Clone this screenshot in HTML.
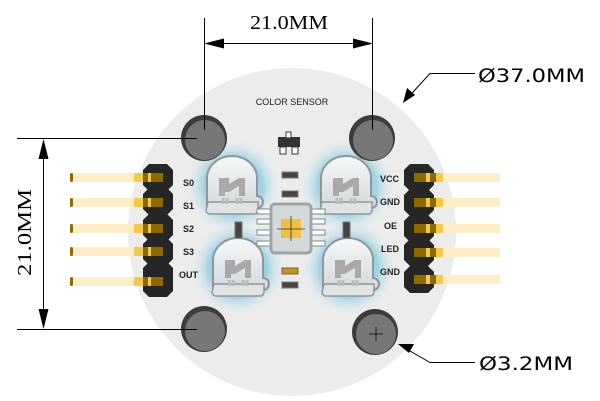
<!DOCTYPE html>
<html><head><style>html,body{margin:0;padding:0;background:#fff}svg{display:block}</style></head>
<body>
<svg width="600" height="401" viewBox="0 0 600 401" xmlns="http://www.w3.org/2000/svg">
<defs>
<radialGradient id="glow" cx="0.5" cy="0.5" r="0.5">
<stop offset="0.6" stop-color="#9fd2e2"/><stop offset="1" stop-color="#e4eef1" stop-opacity="0"/>
</radialGradient>
<linearGradient id="led" x1="0" y1="0" x2="0" y2="1">
<stop offset="0" stop-color="#f6f8f9"/><stop offset="1" stop-color="#d3d8da"/>
</linearGradient>
<g id="seg"><polygon points="6,0 24,0 30,6 30,21 24,27 6,27 0,21 0,6" fill="#262626"/></g>
<g id="ledg">
<path d="M0 50 v-30 a25 22 0 0 1 50 0 v18 a6 6 0 0 1 0 12 z" fill="url(#led)" stroke="#8f979b" stroke-width="2"/>
<path d="M1 44 h50 v8 a4 4 0 0 1 -4 4 h-44 a4 4 0 0 1 -4 -4z" fill="#dfe3e4" stroke="#8f979b" stroke-width="1.5"/>
<path d="M12 38v-18h10l0 6 10-6h6v18h-6v-10l-10 6h-4v4z" fill="#a9a9a9"/>
<path d="M16 40v6M20 40v6M30 40v6M34 40v6" stroke="#bbb" stroke-width="3"/>
</g>
</defs>
<circle cx="292" cy="232" r="164" fill="#ececec"/>
<g fill="url(#glow)">
<circle cx="233" cy="186" r="48"/><circle cx="347" cy="186" r="48"/>
<circle cx="238" cy="268" r="48"/><circle cx="349" cy="268" r="48"/>
</g>
<text x="292" y="105" font-family="Liberation Sans,sans-serif" font-size="9" text-anchor="middle" fill="#222">COLOR SENSOR</text>
<g>
<circle cx="204" cy="138" r="23" fill="#3c3c3c"/><circle cx="205" cy="140" r="20" fill="#777"/>
<circle cx="372" cy="138" r="23" fill="#3c3c3c"/><circle cx="373" cy="140" r="20" fill="#777"/>
<circle cx="204" cy="329" r="23" fill="#3c3c3c"/><circle cx="205" cy="331" r="20" fill="#777"/>
<circle cx="375" cy="332" r="23" fill="#3c3c3c"/><circle cx="376" cy="334" r="20" fill="#777"/>
<path d="M369 334h14M376 327v14" stroke="#222" stroke-width="1"/>
</g>
<use href="#ledg" x="207" y="158"/>
<use href="#ledg" x="321" y="158"/>
<use href="#ledg" x="213" y="240"/>
<use href="#ledg" x="323" y="240"/>
<rect x="278" y="137" width="22" height="10" fill="#333"/>
<rect x="286" y="132" width="5" height="6" fill="#fff" stroke="#333"/>
<rect x="280" y="147" width="6" height="7" fill="#fff" stroke="#333"/><rect x="292" y="147" width="6" height="7" fill="#fff" stroke="#333"/>
<rect x="282" y="172" width="16" height="6" fill="#444" stroke="#777"/>
<rect x="282" y="191" width="16" height="6" fill="#444" stroke="#777"/>
<rect x="282" y="268" width="16" height="6" fill="#c8960a" stroke="#666"/>
<rect x="282" y="282" width="16" height="6" fill="#444" stroke="#777"/>
<rect x="235" y="222" width="7" height="16" fill="#444" stroke="#777"/>
<rect x="343" y="222" width="7" height="16" fill="#444" stroke="#777"/>
<g fill="#fff" stroke="#7a8a90" stroke-width="1">
<rect x="257" y="209" width="15" height="5"/><rect x="257" y="219" width="15" height="5"/><rect x="257" y="230" width="15" height="5"/><rect x="257" y="241" width="15" height="5"/>
<rect x="310" y="209" width="15" height="5"/><rect x="310" y="219" width="15" height="5"/><rect x="310" y="230" width="15" height="5"/><rect x="310" y="241" width="15" height="5"/>
</g>
<rect x="271" y="204" width="40" height="49" rx="4" fill="#d6d9da" stroke="#9ea5a8" stroke-width="3"/>
<rect x="281" y="219" width="20" height="19" fill="#f0c040"/>
<path d="M277 229h28M291 216v25" stroke="#333" stroke-width="0.8"/>
<use href="#seg" x="143" y="164"/><use href="#seg" x="143" y="188"/><use href="#seg" x="143" y="214"/><use href="#seg" x="143" y="238"/><use href="#seg" x="143" y="262"/><use href="#seg" x="143" y="270"/>
<use href="#seg" x="404" y="164"/><use href="#seg" x="404" y="189"/><use href="#seg" x="404" y="215"/><use href="#seg" x="404" y="239"/><use href="#seg" x="404" y="266"/>
<g id="lp">
<rect x="70" y="173" width="70" height="9" fill="#fdeec8"/><rect x="70" y="173" width="3" height="9" rx="1.5" fill="#8b6a00"/>
<rect x="134" y="173" width="9" height="9" fill="#f5c84a"/><rect x="143" y="173" width="5" height="9" fill="#8b6a00"/><rect x="148" y="173" width="3" height="9" fill="#f5c84a"/><rect x="151" y="173" width="12" height="9" fill="#8b6a00"/>
</g>
<use href="#lp" y="25"/><use href="#lp" y="51"/><use href="#lp" y="74"/><use href="#lp" y="104"/>
<g id="rp">
<rect x="437" y="173" width="63" height="9" fill="#fdeec8"/>
<rect x="414" y="173" width="12" height="9" fill="#8b6a00"/><rect x="426" y="173" width="4" height="9" fill="#f5c84a"/><rect x="430" y="173" width="6" height="9" fill="#8b6a00"/><rect x="436" y="173" width="7" height="9" fill="#f5c84a"/>
</g>
<use href="#rp" y="25"/><use href="#rp" y="51"/><use href="#rp" y="75"/><use href="#rp" y="102"/>
<g font-family="Liberation Sans,sans-serif" font-size="9" font-weight="bold" fill="#222">
<text x="183" y="186">S0</text><text x="183" y="209">S1</text><text x="183" y="232">S2</text><text x="183" y="255">S3</text><text x="179" y="278">OUT</text>
<text x="380" y="182">VCC</text><text x="380" y="205">GND</text><text x="384" y="229">OE</text><text x="381" y="252">LED</text><text x="380" y="275">GND</text>
</g>
<g stroke="#000" stroke-width="1" fill="none">
<path d="M204.5 18v112M372.5 18v112M215 43.5h147"/>
<path d="M17 138.5h180M17 329.5h180M43.5 150v168"/>
<path d="M475 73.5h-45l-22 24"/>
<path d="M475 362.5h-45l-26-15"/>
</g>
<g fill="#000">
<path d="M204 43.5l20-5v10z"/><path d="M373 43.5l-20-5v10z"/>
<path d="M43.5 139l-5 20h10z"/><path d="M43.5 329l5-20h-10z"/>
<path d="M403 103l4-15 8 7z"/>
<path d="M398 344l16 0-5 9z"/>
</g>
<text x="250" y="29" font-family="Liberation Serif,'Noto Serif CJK SC',serif" font-size="20" textLength="78" lengthAdjust="spacingAndGlyphs">21.0MM</text>
<text transform="translate(31 276) rotate(-90)" font-family="Liberation Serif,'Noto Serif CJK SC',serif" font-size="20" textLength="87" lengthAdjust="spacingAndGlyphs">21.0MM</text>
<text x="478" y="82" font-family="DejaVu Sans,sans-serif" font-size="19" textLength="107" lengthAdjust="spacingAndGlyphs">Ø37.0MM</text>
<text x="479" y="370" font-family="DejaVu Sans,sans-serif" font-size="19" textLength="94" lengthAdjust="spacingAndGlyphs">Ø3.2MM</text>
</svg>
</body></html>
